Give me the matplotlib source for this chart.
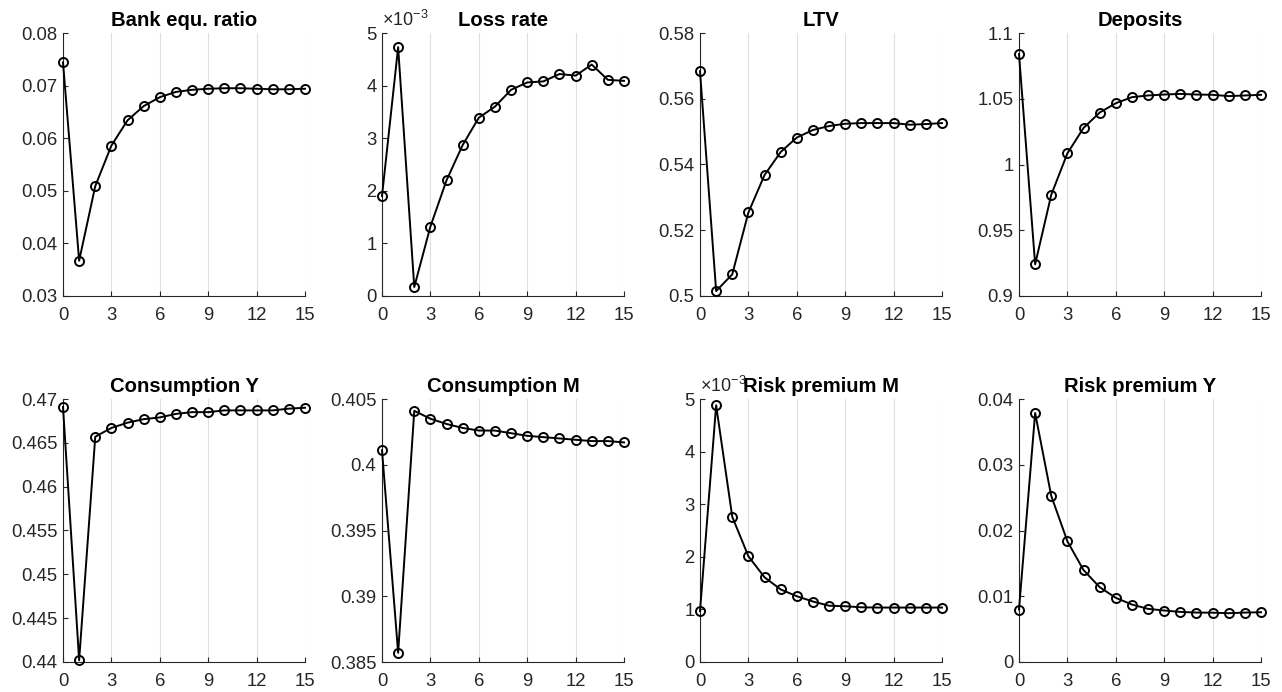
import matplotlib
matplotlib.use("Agg")
import matplotlib.pyplot as plt
from matplotlib.ticker import FuncFormatter

# ──────────────────────────────────────────────────────────────
#  Data (impulse responses, horizon 0..15)
# ──────────────────────────────────────────────────────────────
periods = list(range(16))

bank_equity_ratio = [0.0744, 0.0367, 0.0509, 0.0586, 0.0634, 0.0661, 0.0678, 0.0688,
                     0.0692, 0.0694, 0.0695, 0.0695, 0.0694, 0.0693, 0.0693, 0.0694]
loss_rate = [1.90e-3, 4.73e-3, 0.17e-3, 1.32e-3, 2.20e-3, 2.87e-3, 3.39e-3, 3.60e-3,
             3.92e-3, 4.06e-3, 4.08e-3, 4.22e-3, 4.19e-3, 4.40e-3, 4.11e-3, 4.09e-3]
ltv = [0.5684, 0.5015, 0.5066, 0.5254, 0.5368, 0.5438, 0.5482, 0.5505,
       0.5517, 0.5524, 0.5526, 0.5526, 0.5526, 0.5521, 0.5523, 0.5526]
deposits = [1.084, 0.9241, 0.977, 1.0085, 1.0278, 1.0395, 1.0466, 1.0512,
            1.0525, 1.0532, 1.0537, 1.0532, 1.0530, 1.0520, 1.0525, 1.0530]
consumption_y = [0.4691, 0.4402, 0.4657, 0.4667, 0.4673, 0.4677, 0.4679, 0.4683,
                 0.4685, 0.4685, 0.4687, 0.4687, 0.4687, 0.4687, 0.4689, 0.4690]
consumption_m = [0.4011, 0.3857, 0.4041, 0.4035, 0.4031, 0.4028, 0.4026, 0.4026,
                 0.4024, 0.4022, 0.4021, 0.4020, 0.4019, 0.4018, 0.4018, 0.4017]
risk_premium_m = [0.966e-3, 4.88e-3, 2.76e-3, 2.01e-3, 1.61e-3, 1.38e-3, 1.25e-3, 1.15e-3,
                  1.07e-3, 1.06e-3, 1.04e-3, 1.035e-3, 1.035e-3, 1.035e-3, 1.035e-3, 1.035e-3]
risk_premium_y = [0.00798, 0.03787, 0.02526, 0.01835, 0.01398, 0.01138, 0.00976, 0.00874,
                  0.00808, 0.00783, 0.00762, 0.00752, 0.00750, 0.00742, 0.00752, 0.00757]

titles = ["Bank equ. ratio", "Loss rate", "LTV", "Deposits",
          "Consumption Y", "Consumption M", "Risk premium M", "Risk premium Y"]
series = [bank_equity_ratio, loss_rate, ltv, deposits,
          consumption_y, consumption_m, risk_premium_m, risk_premium_y]
y_limits = [(0.03, 0.08), (0, 5e-3), (0.5, 0.58), (0.9, 1.1),
            (0.44, 0.47), (0.385, 0.405), (0, 5e-3), (0, 0.04)]
y_steps = [0.01, 1e-3, 0.02, 0.05, 0.005, 0.005, 1e-3, 0.01]
sci_scaled = [False, True, False, False, False, False, True, False]
x_ticks = [0, 3, 6, 9, 12, 15]

# ──────────────────────────────────────────────────────────────
#  Figure layout (MATLAB-like)
# ──────────────────────────────────────────────────────────────
plt.rcParams["font.family"] = ["Liberation Sans", "DejaVu Sans"]
plt.rcParams["mathtext.fontset"] = "custom"
plt.rcParams["mathtext.rm"] = "Liberation Sans"
AXIS_COLOR = "#262626"

fig = plt.figure(figsize=(12.82, 6.92), dpi=100)

col_lefts = [63, 382, 700, 1019]
row_bottoms = [296, 662]
ax_w, ax_h = 242, 263

for i, (title, values) in enumerate(zip(titles, series)):
    row, col = divmod(i, 4)
    rect = [col_lefts[col] / 1282, 1 - row_bottoms[row] / 692, ax_w / 1282, ax_h / 692]
    ax = fig.add_axes(rect)

    ax.plot(periods, values, "-", color="black", linewidth=1.4,
            marker="o", markersize=6.5, markerfacecolor="none",
            markeredgecolor="black", markeredgewidth=1.4, clip_on=False, zorder=3)

    lo, hi = y_limits[i]
    step = y_steps[i]
    n = int(round((hi - lo) / step))
    ax.set_ylim(lo, hi)
    ax.set_yticks([lo + k * step for k in range(n + 1)])
    ax.set_xlim(0, 15)
    ax.set_xticks(x_ticks)

    if sci_scaled[i]:
        ax.yaxis.set_major_formatter(FuncFormatter(lambda v, p: f"{v * 1e3:g}"))
        ax.text(0.0, 1.01, r"$\times10^{-3}$", transform=ax.transAxes,
                fontsize=13, color=AXIS_COLOR, ha="left", va="bottom")
    else:
        ax.yaxis.set_major_formatter(FuncFormatter(lambda v, p: f"{round(v, 6):g}"))

    ax.grid(axis="x", color="#dfdfdf", linewidth=0.8)
    ax.set_axisbelow(True)
    for side in ("top", "right"):
        ax.spines[side].set_visible(False)
    for side in ("left", "bottom"):
        ax.spines[side].set_color(AXIS_COLOR)
        ax.spines[side].set_linewidth(0.8)

    ax.tick_params(direction="in", length=3.5, width=0.8, colors=AXIS_COLOR,
                   labelsize=13.3)
    ax.tick_params(axis="x", pad=8)
    ax.tick_params(axis="y", pad=4)
    ax.set_title(title, fontsize=14.6, fontweight="bold", pad=5)

fig.savefig("out.png", dpi=100)
